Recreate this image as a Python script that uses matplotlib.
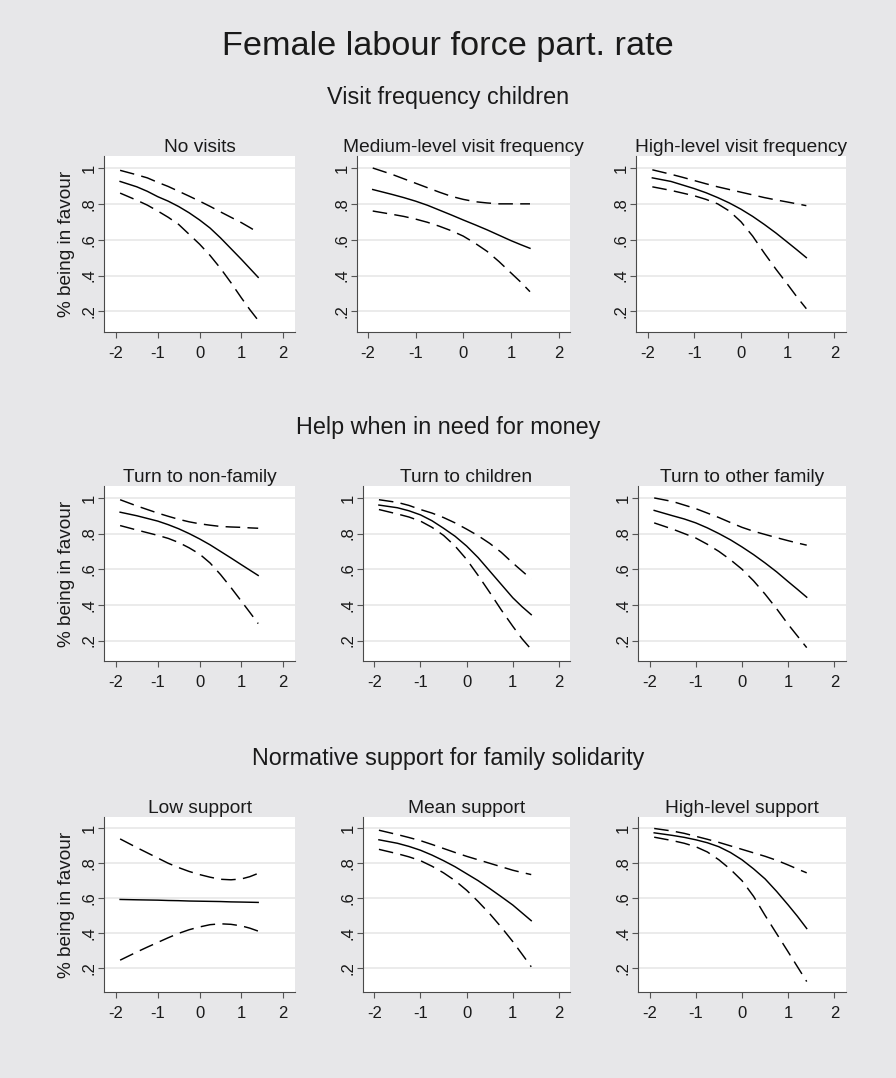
import matplotlib
matplotlib.use('Agg')
import matplotlib.pyplot as plt

plt.rcParams['font.family'] = ['Liberation Sans', 'DejaVu Sans']
plt.rcParams['axes.unicode_minus'] = False

# ---------------- data ----------------
x_vals = [-1.9, -1.5, -1.25, -1.0, -0.75, -0.5, -0.25, 0.0, 0.25, 0.5, 0.75, 1.0, 1.2, 1.4]

main_title = "Female labour force part. rate"
group_titles = ["Visit frequency children",
                "Help when in need for money",
                "Normative support for family solidarity"]
panel_titles = [["No visits", "Medium-level visit frequency", "High-level visit frequency"],
                ["Turn to non-family", "Turn to children", "Turn to other family"],
                ["Low support", "Mean support", "High-level support"]]
y_title = "% being in favour"
x_ticks = [-2, -1, 0, 1, 2]
x_tick_labels = ["-2", "-1", "0", "1", "2"]
y_ticks = [0.2, 0.4, 0.6, 0.8, 1.0]
y_tick_labels = [".2", ".4", ".6", ".8", "1"]

no_visits_fit = [0.925, 0.895, 0.870, 0.84, 0.815, 0.785, 0.75, 0.71, 0.665, 0.61, 0.55, 0.49, 0.44, 0.39]
no_visits_up = [0.987, 0.962, 0.945, 0.92, 0.897, 0.87, 0.843, 0.815, 0.786, 0.755, 0.725, 0.695, 0.668, 0.64]
no_visits_lo = [0.86, 0.82, 0.793, 0.76, 0.725, 0.685, 0.63, 0.575, 0.512, 0.44, 0.36, 0.275, 0.21, 0.15]

medium_visit_fit = [0.88, 0.853, 0.835, 0.815, 0.792, 0.765, 0.738, 0.71, 0.683, 0.655, 0.625, 0.595, 0.573, 0.552]
medium_visit_up = [1.0, 0.965, 0.94, 0.915, 0.89, 0.865, 0.842, 0.825, 0.812, 0.805, 0.80, 0.80, 0.80, 0.80]
medium_visit_lo = [0.76, 0.742, 0.73, 0.715, 0.697, 0.675, 0.65, 0.62, 0.58, 0.535, 0.478, 0.415, 0.365, 0.31]

high_visit_fit = [0.945, 0.925, 0.905, 0.885, 0.862, 0.835, 0.805, 0.77, 0.73, 0.685, 0.637, 0.585, 0.543, 0.50]
high_visit_up = [0.99, 0.965, 0.948, 0.93, 0.912, 0.895, 0.88, 0.865, 0.85, 0.835, 0.822, 0.81, 0.80, 0.79]
high_visit_lo = [0.895, 0.875, 0.86, 0.845, 0.825, 0.80, 0.76, 0.70, 0.62, 0.525, 0.435, 0.35, 0.28, 0.215]

nonfamily_fit = [0.92, 0.90, 0.885, 0.87, 0.85, 0.827, 0.80, 0.77, 0.737, 0.70, 0.663, 0.625, 0.595, 0.565]
nonfamily_up = [0.99, 0.955, 0.935, 0.915, 0.897, 0.88, 0.866, 0.855, 0.847, 0.84, 0.837, 0.835, 0.832, 0.83]
nonfamily_lo = [0.845, 0.82, 0.805, 0.79, 0.773, 0.75, 0.72, 0.685, 0.635, 0.57, 0.497, 0.42, 0.358, 0.295]

children_fit = [0.96, 0.945, 0.928, 0.905, 0.872, 0.83, 0.785, 0.73, 0.665, 0.59, 0.515, 0.44, 0.39, 0.345]
children_up = [0.99, 0.975, 0.958, 0.935, 0.915, 0.89, 0.86, 0.825, 0.788, 0.745, 0.695, 0.635, 0.59, 0.545]
children_lo = [0.935, 0.91, 0.893, 0.87, 0.835, 0.79, 0.73, 0.655, 0.565, 0.47, 0.372, 0.28, 0.21, 0.15]

otherfam_fit = [0.93, 0.90, 0.882, 0.86, 0.832, 0.80, 0.765, 0.725, 0.682, 0.635, 0.585, 0.53, 0.487, 0.443]
otherfam_up = [1.0, 0.98, 0.96, 0.94, 0.915, 0.89, 0.862, 0.835, 0.813, 0.795, 0.777, 0.76, 0.747, 0.735]
otherfam_lo = [0.86, 0.825, 0.80, 0.775, 0.74, 0.70, 0.653, 0.60, 0.535, 0.46, 0.378, 0.29, 0.225, 0.16]

low_support_fit = [0.592, 0.590, 0.589, 0.588, 0.586, 0.585, 0.583, 0.582, 0.581, 0.580, 0.578, 0.577, 0.576, 0.575]
low_support_up = [0.94, 0.89, 0.86, 0.83, 0.80, 0.775, 0.753, 0.735, 0.72, 0.708, 0.705, 0.71, 0.723, 0.742]
low_support_lo = [0.243, 0.29, 0.318, 0.345, 0.372, 0.397, 0.418, 0.434, 0.447, 0.452, 0.449, 0.44, 0.427, 0.41]

mean_support_fit = [0.935, 0.915, 0.897, 0.875, 0.847, 0.815, 0.78, 0.74, 0.70, 0.655, 0.608, 0.56, 0.515, 0.47]
mean_support_up = [0.99, 0.965, 0.948, 0.93, 0.908, 0.885, 0.862, 0.84, 0.82, 0.80, 0.78, 0.76, 0.747, 0.735]
mean_support_lo = [0.88, 0.855, 0.837, 0.815, 0.783, 0.745, 0.70, 0.645, 0.58, 0.51, 0.433, 0.35, 0.278, 0.205]

high_support_fit = [0.975, 0.96, 0.949, 0.935, 0.918, 0.895, 0.862, 0.82, 0.768, 0.71, 0.638, 0.56, 0.495, 0.425]
high_support_up = [1.0, 0.985, 0.972, 0.955, 0.938, 0.92, 0.90, 0.88, 0.86, 0.84, 0.817, 0.79, 0.767, 0.745]
high_support_lo = [0.95, 0.93, 0.915, 0.895, 0.865, 0.82, 0.765, 0.70, 0.61, 0.50, 0.395, 0.29, 0.205, 0.12]

panel_data = [
    [(no_visits_fit, no_visits_up, no_visits_lo),
     (medium_visit_fit, medium_visit_up, medium_visit_lo),
     (high_visit_fit, high_visit_up, high_visit_lo)],
    [(nonfamily_fit, nonfamily_up, nonfamily_lo),
     (children_fit, children_up, children_lo),
     (otherfam_fit, otherfam_up, otherfam_lo)],
    [(low_support_fit, low_support_up, low_support_lo),
     (mean_support_fit, mean_support_up, mean_support_lo),
     (high_support_fit, high_support_up, high_support_lo)],
]

# ---------------- layout (pixels) ----------------
W, H = 896, 1078
BG = '#E7E7E9'
TXT = '#1A1A1A'
row_top = [156, 486, 817]
row_bot = [332, 661, 992]
col_box = [[(104, 295), (357, 570), (636, 846)],
           [(104, 295), (363, 570), (638, 846)],
           [(104, 295), (363, 570), (638, 846)]]
col_xlim = [[(-2.285, 2.28), (-2.23, 2.24), (-2.25, 2.25)],
            [(-2.285, 2.28), (-2.245, 2.24), (-2.25, 2.25)],
            [(-2.285, 2.28), (-2.245, 2.24), (-2.25, 2.25)]]
row_ylim = [(0.085, 1.067), (0.085, 1.067), (0.06, 1.066)]

fig = plt.figure(figsize=(W / 100, H / 100), dpi=100, facecolor=BG)

fig.text(0.5, 1 - 55 / H, main_title, ha='center', va='baseline',
         fontsize=24.7, color=TXT)

for r in range(3):
    fig.text(0.5, 1 - (row_top[r] - 52) / H, group_titles[r], ha='center',
             va='baseline', fontsize=16.8, color=TXT)
    for c in range(3):
        l, rr = col_box[r][c]
        t, b = row_top[r], row_bot[r]
        ax = fig.add_axes([l / W, 1 - b / H, (rr - l) / W, (b - t) / H])
        ax.set_facecolor('white')
        fit, up, lo = panel_data[r][c]
        ax.plot(x_vals, up, color='black', lw=1.05, ls=(0, (10, 5)))
        ax.plot(x_vals, fit, color='black', lw=1.05, ls='-')
        ax.plot(x_vals, lo, color='black', lw=1.05, ls=(0, (10, 5)))
        ax.set_xlim(*col_xlim[r][c])
        ax.set_ylim(*row_ylim[r])
        ax.set_xticks(x_ticks)
        ax.set_xticklabels(x_tick_labels)
        ax.set_yticks(y_ticks)
        ax.set_yticklabels(y_tick_labels)
        for s in ['top', 'right']:
            ax.spines[s].set_visible(False)
        for s in ['left', 'bottom']:
            ax.spines[s].set_color('#4A4A4A')
            ax.spines[s].set_linewidth(0.8)
        ax.grid(axis='y', color='#E6E6E6', lw=1.1)
        ax.set_axisbelow(True)
        ax.tick_params(axis='x', length=4, width=0.8, color='#555555',
                       labelsize=12, labelcolor=TXT, pad=6)
        ax.tick_params(axis='y', length=4, width=0.8, color='#555555',
                       labelsize=12, labelcolor=TXT, pad=1.5)
        plt.setp(ax.get_yticklabels(), rotation=90, va='center')
        ax.set_title(panel_titles[r][c], fontsize=13.8, color=TXT, pad=0)
        ax.title.set_position((0.5, 1 + 8 / (b - t)))
        ax.title.set_va('baseline')
        if c == 0:
            fig.text(66 / W, 1 - (t + b) / 2 / H, y_title, rotation=90,
                     ha='center', va='center', fontsize=13.7, color=TXT)

fig.savefig('out.png', dpi=100, facecolor=BG)
